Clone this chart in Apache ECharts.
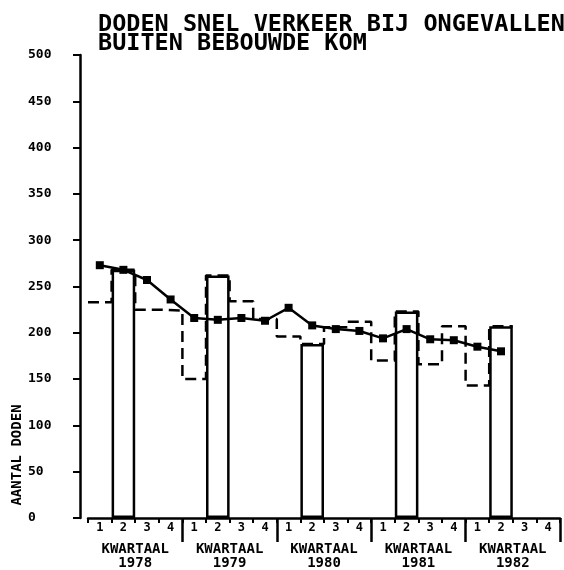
<!DOCTYPE html>
<html>
<head>
<meta charset="utf-8">
<script src="https://cdn.jsdelivr.net/npm/echarts@6/dist/echarts.min.js"></script>
<style>
  html, body { margin: 0; padding: 0; background: #fff; }
  #main { width: 564px; height: 570px; }
</style>
</head>
<body>
<div id="main"></div>
<script>
const years = ['1978', '1979', '1980', '1981', '1982'];
const quarterLabels = ['1', '2', '3', '4'];
// doden per kwartaal (stippellijn)
const quarterly = [233, 268, 225, 224, 150, 262, 234, 215, 196, 188, 206, 212, 170, 223, 166, 207, 143, 207];
// tweede kwartaal als kolom
const secondQuarter = [268, 262, 188, 223, 207];
// voortschrijdend gemiddelde
const movingAvg = [273, 268, 257, 236, 216, 214, 216, 213, 227, 208, 204, 202, 194, 204, 193, 192, 185, 180];
const yTicks = [0, 50, 100, 150, 200, 250, 300, 350, 400, 450, 500];

const font = 'DejaVu Sans Mono';
const ink = '#000';

const categories = [];
years.forEach(y => quarterLabels.forEach(q => categories.push(y + '-' + q)));

const barData = categories.map((c, i) => (i % 4 === 1 ? secondQuarter[Math.floor(i / 4)] : '-'));
const avgData = categories.map((c, i) => (i < movingAvg.length ? movingAvg[i] : '-'));
const stepData = quarterly.map((v, i) => [i, v]);
stepData.push([quarterly.length, quarterly[quarterly.length - 1]]);

const chart = echarts.init(document.getElementById('main'));
chart.setOption({
    animation: false,
    backgroundColor: '#fff',
    title: {
        text: 'DODEN SNEL VERKEER BIJ ONGEVALLEN\nBUITEN BEBOUWDE KOM',
        left: 93,
        top: 10,
        textStyle: {
            fontFamily: font,
            fontWeight: 'bold',
            fontSize: 23.5,
            lineHeight: 19,
            color: ink
        }
    },
    graphic: [{
        type: 'text',
        x: 17,
        y: 455,
        rotation: Math.PI / 2,
        style: {
            text: 'AANTAL DODEN',
            fontFamily: font,
            fontWeight: 'bold',
            fontSize: 14,
            fill: ink,
            align: 'center',
            verticalAlign: 'middle'
        }
    }],
    grid: { left: 88, right: 4, top: 55, bottom: 45 },
    xAxis: [
        {
            type: 'category',
            data: categories,
            boundaryGap: true,
            axisLine: { onZero: false, lineStyle: { color: ink, width: 2.5 } },
            axisTick: { show: true, length: 5, interval: 0, lineStyle: { color: ink, width: 2 } },
            axisLabel: {
                interval: 0,
                margin: 4,
                formatter: v => v.split('-')[1],
                fontFamily: font,
                fontWeight: 'bold',
                fontSize: 12,
                color: ink
            },
            splitLine: { show: false }
        },
        {
            type: 'category',
            data: years,
            position: 'bottom',
            boundaryGap: true,
            axisLine: { show: false, onZero: false },
            axisTick: {
                show: true,
                length: 24,
                interval: idx => idx !== 0,
                lineStyle: { color: ink, width: 2.5 }
            },
            axisLabel: {
                interval: 0,
                margin: 24,
                formatter: v => 'KWARTAAL\n' + v,
                fontFamily: font,
                fontWeight: 'bold',
                fontSize: 14,
                lineHeight: 14,
                color: ink
            },
            splitLine: { show: false }
        },
        {
            type: 'value',
            min: 0,
            max: categories.length,
            show: false
        }
    ],
    yAxis: {
        type: 'value',
        min: yTicks[0],
        max: yTicks[yTicks.length - 1],
        interval: 50,
        offset: 8,
        axisLine: { show: true, onZero: false, lineStyle: { color: ink, width: 2.5 } },
        axisTick: { show: true, length: 7, lineStyle: { color: ink, width: 2 } },
        axisLabel: {
            align: 'left',
            margin: 52,
            fontFamily: font,
            fontWeight: 'bold',
            fontSize: 13,
            color: ink
        },
        splitLine: { show: false }
    },
    series: [
        {
            name: 'per kwartaal',
            type: 'line',
            xAxisIndex: 2,
            data: stepData,
            step: 'end',
            showSymbol: false,
            lineStyle: { color: ink, width: 2.5, type: [11, 6] }
        },
        {
            name: '2e kwartaal',
            type: 'bar',
            xAxisIndex: 0,
            data: barData,
            barWidth: '100%',
            itemStyle: { color: 'rgba(0,0,0,0)', borderColor: ink, borderWidth: 2.5 }
        },
        {
            name: 'gemiddelde',
            type: 'line',
            xAxisIndex: 0,
            data: avgData,
            symbol: 'rect',
            symbolSize: 8,
            itemStyle: { color: ink },
            lineStyle: { color: ink, width: 2.5 }
        }
    ]
});
</script>
</body>
</html>
